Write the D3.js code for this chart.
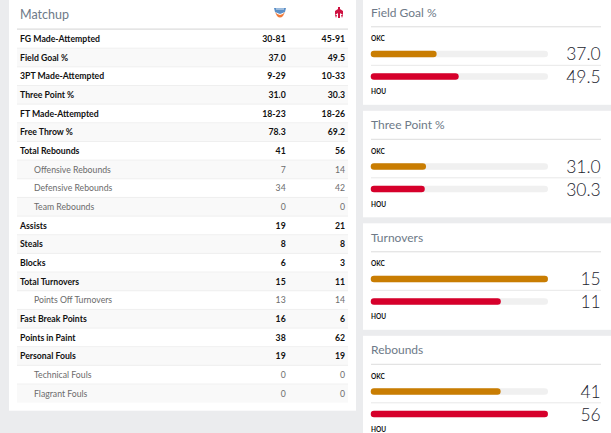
<!DOCTYPE html>
<html><head><meta charset="utf-8">
<script src="https://cdn.jsdelivr.net/npm/d3@7"></script>
<style>
html,body{margin:0;padding:0;background:#ebecee;}
svg{display:block;font-family:Lato,"Open Sans",sans-serif;}
</style></head>
<body><svg id="c" width="611" height="433"></svg>
<script>
// ---- data ----
const statLabels = ["FG Made-Attempted","Field Goal %","3PT Made-Attempted","Three Point %","FT Made-Attempted","Free Throw %","Total Rebounds","Offensive Rebounds","Defensive Rebounds","Team Rebounds","Assists","Steals","Blocks","Total Turnovers","Points Off Turnovers","Fast Break Points","Points in Paint","Personal Fouls","Technical Fouls","Flagrant Fouls"];
const statSub = [0,0,0,0,0,0,0,1,1,1,0,0,0,0,1,0,0,0,1,1];
const okcStats = ["30-81","37.0","9-29","31.0","18-23","78.3","41","7","34","0","19","8","6","15","13","16","38","19","0","0"];
const houStats = ["45-91","49.5","10-33","30.3","18-26","69.2","56","14","42","0","21","8","3","11","14","6","62","19","0","0"];
const compareTitles = ["Field Goal %","Three Point %","Turnovers","Rebounds"];
const compareOKC = [37.0, 31.0, 15, 41];
const compareHOU = [49.5, 30.3, 11, 56];
const compareIsPct = [true, true, false, false];
const teams = ["OKC","HOU"];
const teamColors = ["#c97d02","#d6002b"];

const svg = d3.select("#c");

// ---- left card ----
svg.append("rect").attr("x",9).attr("y",-10).attr("width",347).attr("height",420.7).attr("fill","#fff");
svg.append("text").attr("x",20).attr("y",18.5).attr("font-size",12.5).attr("fill","#6e7a88").text("Matchup");
// logos
const okcL = svg.append("g").attr("transform","translate(280,13)");
okcL.append("path").attr("d","M-6,-5 L6,-5 L5,-1 L0,1 L-5,-1 Z").attr("fill","#5b8fc7");
okcL.append("path").attr("d","M-5,-1 Q0,5 5,-1 L3,3 Q0,6 -3,3 Z").attr("fill","#ef7a3a");
okcL.append("path").attr("d","M-4,-4 L4,-4").attr("stroke","#ffffff").attr("stroke-width",0.8);
const houL = svg.append("g").attr("transform","translate(339,13)");
houL.append("path").attr("d","M-1,-6 L1,-6 L1,5 L-1,5 Z M-4,-2 L-1,-4 L-1,0 L-4,2 Z M4,-2 L1,-4 L1,0 L4,2 Z M-4,2 L-3,5 L-2,2 Z M4,2 L3,5 L2,2 Z").attr("fill","#ce1141");

const rowY = d3.scaleBand().domain(d3.range(statLabels.length)).range([29.5,402.7]).padding(0);
svg.append("line").attr("x1",17).attr("x2",348).attr("y1",29.2).attr("y2",29.2).attr("stroke","#dcdcdc").attr("stroke-width",1.2);
const rows = svg.selectAll("g.row").data(statLabels).join("g").attr("class","row")
  .attr("transform",(d,i)=>`translate(0,${rowY(i)})`);
rows.append("rect").attr("x",17).attr("width",331).attr("y",0.5).attr("height",rowY.bandwidth()-0.5)
  .attr("fill",(d,i)=> i%2 ? "#f9f9f9" : "#ffffff");
rows.filter((d,i)=>i>0).append("line").attr("x1",17).attr("x2",348).attr("y1",0).attr("y2",0).attr("stroke","#efefef").attr("stroke-width",1);
const mid = rowY.bandwidth()/2 + 3.2;
rows.append("text").attr("x",(d,i)=>statSub[i]?34:20).attr("y",mid)
  .attr("font-size",8.7).attr("font-weight",(d,i)=>statSub[i]?400:700)
  .attr("fill",(d,i)=>statSub[i]?"#6b6b6b":"#111").text(d=>d);
rows.append("text").attr("x",285.7).attr("y",mid).attr("text-anchor","end")
  .attr("font-size",8.7).attr("font-weight",(d,i)=>statSub[i]?400:700)
  .attr("fill",(d,i)=>statSub[i]?"#6b6b6b":"#111").text((d,i)=>okcStats[i]);
rows.append("text").attr("x",345).attr("y",mid).attr("text-anchor","end")
  .attr("font-size",8.7).attr("font-weight",(d,i)=>statSub[i]?400:700)
  .attr("fill",(d,i)=>statSub[i]?"#6b6b6b":"#111").text((d,i)=>houStats[i]);

// ---- right cards ----
const cardTop = d3.scaleLinear().domain([0,1]).range([-1.7,110.8]);
const barX0 = 371, barX1 = 547.7;
compareTitles.forEach((title,k)=>{
  const top = cardTop(k);
  const g = svg.append("g").attr("transform",`translate(0,${top})`);
  g.append("rect").attr("x",363).attr("y",0).attr("width",260).attr("height",k===3?120:106.5).attr("fill","#fff");
  g.append("text").attr("x",371).attr("y",18.5).attr("font-size",12).attr("fill","#6e7a88").text(title);
  g.append("line").attr("x1",371).attr("x2",601).attr("y1",28.5).attr("y2",28.5).attr("stroke","#dcdcdc").attr("stroke-width",1);
  g.append("line").attr("x1",371).attr("x2",601).attr("y1",67).attr("y2",67).attr("stroke","#e8e8e8").attr("stroke-width",1);
  const vals = [compareOKC[k], compareHOU[k]];
  const xs = d3.scaleLinear().domain([0, compareIsPct[k] ? 100 : d3.max(vals)]).range([barX0, barX1]);
  const barYs = [55.7, 78.3];
  const labelYs = [43, 96];
  vals.forEach((v,t)=>{
    g.append("line").attr("x1",xs(0)+3).attr("x2",xs.range()[1]-3).attr("y1",barYs[t]).attr("y2",barYs[t])
      .attr("stroke","#f0f0f0").attr("stroke-width",6.5).attr("stroke-linecap","round");
    g.append("line").attr("x1",xs(0)+3).attr("x2",xs(v)-3).attr("y1",barYs[t]).attr("y2",barYs[t])
      .attr("stroke",teamColors[t]).attr("stroke-width",6.5).attr("stroke-linecap","round");
    g.append("text").attr("x",371).attr("y",labelYs[t]).attr("font-size",6.5).attr("font-weight",700)
      .attr("fill","#111").text(teams[t]);
    g.append("text").attr("x",600.7).attr("y",barYs[t]+6.5).attr("text-anchor","end")
      .attr("font-size",17.5).attr("font-weight",300).attr("fill","#1b1d2e")
      .text(compareIsPct[k] ? d3.format(".1f")(v) : v);
  });
});
</script></body></html>
